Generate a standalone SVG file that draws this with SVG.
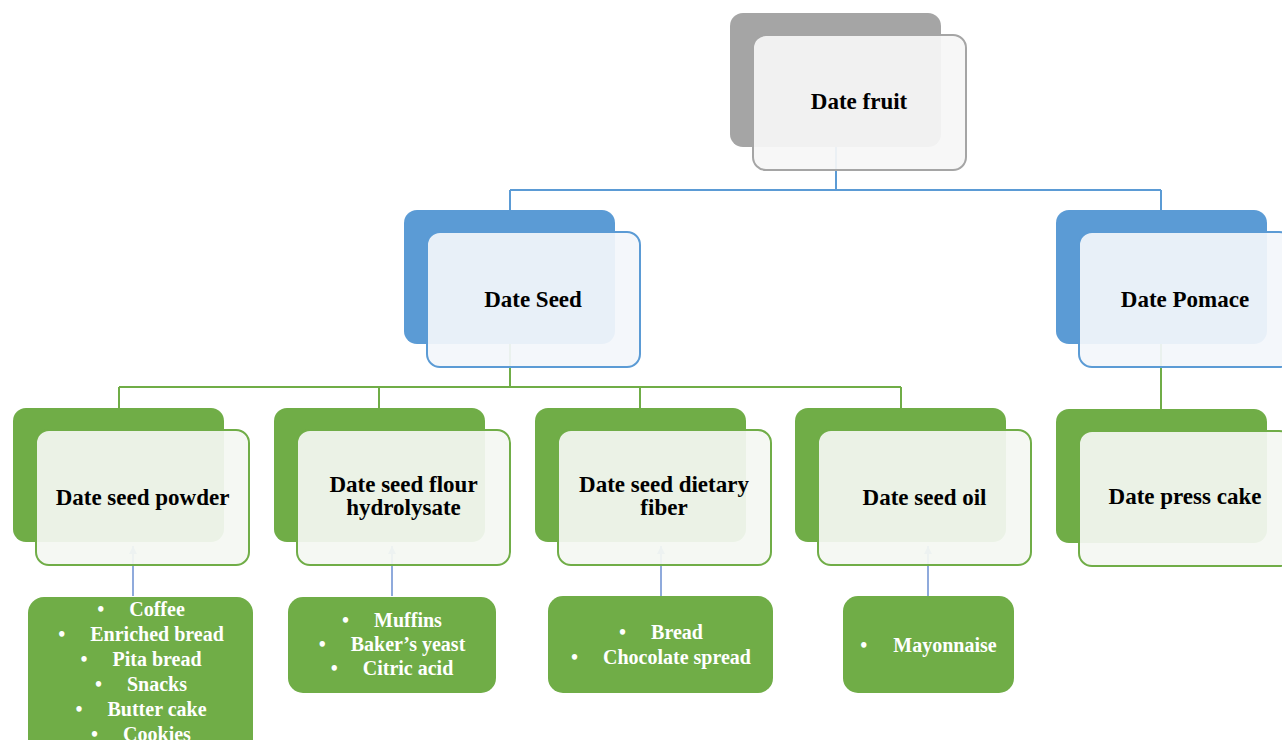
<svg xmlns="http://www.w3.org/2000/svg" width="1282" height="740" viewBox="0 0 1282 740">
<style>
text{font-family:"Liberation Serif","Times New Roman",serif;font-weight:bold}
.lbl{font-size:23px;fill:#000;text-anchor:middle}
.lst{font-size:20px;fill:#fff;text-anchor:middle}
.back-g{fill:#a5a5a5}
.back-b{fill:#5b9bd5}
.back-n{fill:#70ad47}
.front-g{fill:#f6f6f6;fill-opacity:0.93;stroke:#a5a5a5;stroke-width:2}
.front-b{fill:#f3f6fb;fill-opacity:0.93;stroke:#5b9bd5;stroke-width:2}
.front-n{fill:#f4f8f2;fill-opacity:0.93;stroke:#70ad47;stroke-width:2}
.box{fill:#70ad47}
.cb{fill:none;stroke:#5b9bd5;stroke-width:2}
.cg{fill:none;stroke:#70ad47;stroke-width:2}
.ca{fill:none;stroke:#8faadc;stroke-width:2;marker-end:url(#ah)}
</style>
<defs>
<marker id="ah" markerUnits="userSpaceOnUse" markerWidth="10" markerHeight="10" refX="8" refY="4" orient="auto">
<path d="M0,0 L8,4 L0,8 Z" fill="#8faadc"/>
</marker>
</defs>
<rect width="1282" height="740" fill="#fff"/>
<g id="connectors">
<path class="cb" d="M836,147 V190 M510,190 H1161 M510,190 V210 M1161,190 V210"/>
<path class="cg" d="M510,344 V387 M119,387 H901 M119,387 V408 M379,387 V408 M640,387 V408 M901,387 V408"/>
<path class="cg" d="M1161,344 V409"/>
<path class="ca" d="M133,596 V546"/>
<path class="ca" d="M392,596 V546"/>
<path class="ca" d="M661,596 V546"/>
<path class="ca" d="M928,596 V546"/>
</g>
<g id="node-date-fruit">
<rect class="back-g" x="730" y="13" width="211" height="134" rx="13"/>
<rect class="front-g" x="753" y="35" width="213" height="135" rx="13"/>
<text class="lbl" x="859" y="109">Date fruit</text>
</g>
<g id="node-date-seed">
<rect class="back-b" x="404" y="210" width="211" height="134" rx="13"/>
<rect class="front-b" x="427" y="232" width="213" height="135" rx="13"/>
<text class="lbl" x="533" y="307">Date Seed</text>
</g>
<g id="node-date-pomace">
<rect class="back-b" x="1056" y="210" width="211" height="134" rx="13"/>
<rect class="front-b" x="1079" y="232" width="213" height="135" rx="13"/>
<text class="lbl" x="1185" y="307">Date Pomace</text>
</g>
<g id="node-date-seed-powder">
<rect class="back-n" x="13" y="408" width="211" height="134" rx="13"/>
<rect class="front-n" x="36" y="430" width="213" height="135" rx="13"/>
<text class="lbl" x="142.5" y="505">Date seed powder</text>
</g>
<g id="node-date-seed-flour">
<rect class="back-n" x="274" y="408" width="211" height="134" rx="13"/>
<rect class="front-n" x="297" y="430" width="213" height="135" rx="13"/>
<text class="lbl" x="403.5" y="492">Date seed flour</text>
<text class="lbl" x="403.5" y="515">hydrolysate</text>
</g>
<g id="node-date-seed-fiber">
<rect class="back-n" x="535" y="408" width="211" height="134" rx="13"/>
<rect class="front-n" x="558" y="430" width="213" height="135" rx="13"/>
<text class="lbl" x="664" y="492">Date seed dietary</text>
<text class="lbl" x="664" y="515">fiber</text>
</g>
<g id="node-date-seed-oil">
<rect class="back-n" x="795" y="408" width="211" height="134" rx="13"/>
<rect class="front-n" x="818" y="430" width="213" height="135" rx="13"/>
<text class="lbl" x="924.5" y="505">Date seed oil</text>
</g>
<g id="node-date-press-cake">
<rect class="back-n" x="1056" y="409" width="211" height="134" rx="13"/>
<rect class="front-n" x="1079" y="431" width="213" height="135" rx="13"/>
<text class="lbl" x="1185" y="504">Date press cake</text>
</g>
<g id="list-powder">
<rect class="box" x="28" y="597" width="225" height="165" rx="16"/>
<text class="lst" x="141" y="616">•<tspan dx="25">Coffee</tspan></text>
<text class="lst" x="141" y="641">•<tspan dx="25">Enriched bread</tspan></text>
<text class="lst" x="141" y="666">•<tspan dx="25">Pita bread</tspan></text>
<text class="lst" x="141" y="691">•<tspan dx="25">Snacks</tspan></text>
<text class="lst" x="141" y="716">•<tspan dx="25">Butter cake</tspan></text>
<text class="lst" x="141" y="741">•<tspan dx="25">Cookies</tspan></text>
</g>
<g id="list-flour">
<rect class="box" x="288" y="597" width="208" height="96" rx="15"/>
<text class="lst" x="392" y="627">•<tspan dx="25">Muffins</tspan></text>
<text class="lst" x="392" y="651">•<tspan dx="25">Baker’s yeast</tspan></text>
<text class="lst" x="392" y="675">•<tspan dx="25">Citric acid</tspan></text>
</g>
<g id="list-fiber">
<rect class="box" x="548" y="596" width="225" height="97" rx="15"/>
<text class="lst" x="661" y="639">•<tspan dx="25">Bread</tspan></text>
<text class="lst" x="661" y="664">•<tspan dx="25">Chocolate spread</tspan></text>
</g>
<g id="list-oil">
<rect class="box" x="843" y="596" width="171" height="97" rx="15"/>
<text class="lst" x="928.5" y="652">•<tspan dx="26">Mayonnaise</tspan></text>
</g>
</svg>
